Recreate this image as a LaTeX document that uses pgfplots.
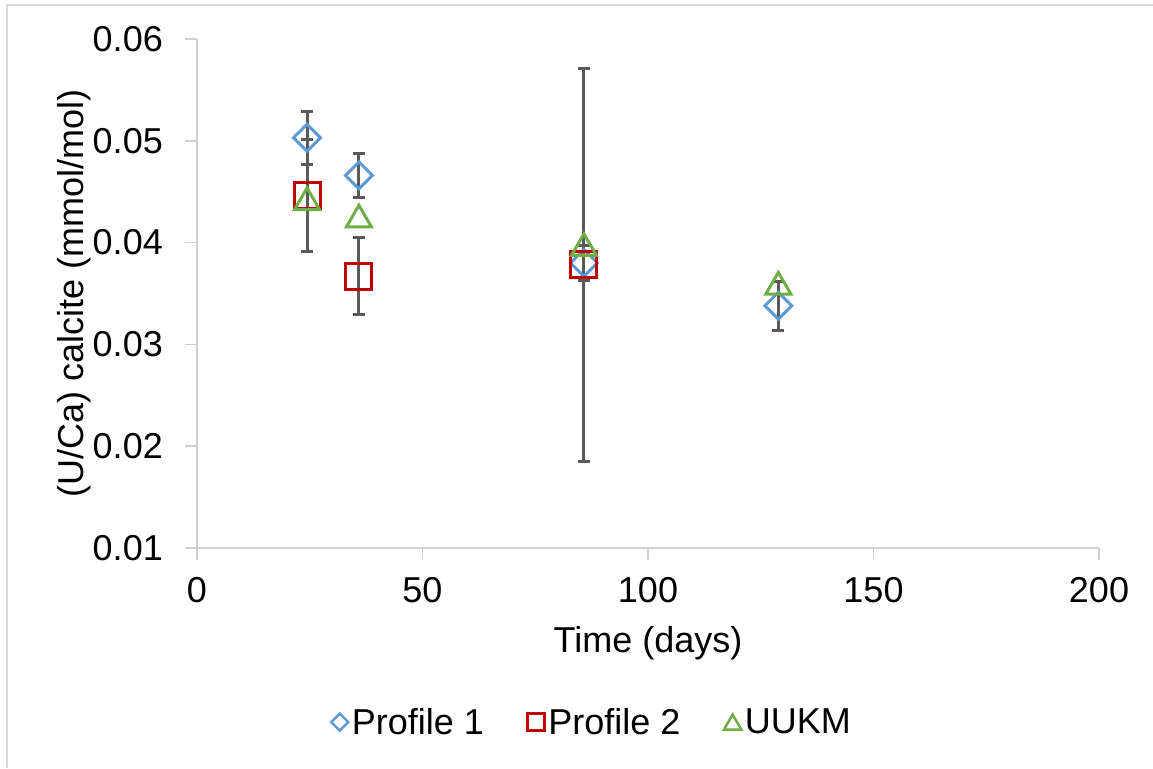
\documentclass[border=0pt]{standalone}
\usepackage{pgfplots}
\pgfplotsset{compat=1.18}
\usepackage{fontspec}
\setmainfont{Liberation Sans}
\definecolor{pone}{HTML}{5B9BD5}
\definecolor{ptwo}{HTML}{C00000}
\definecolor{pthree}{HTML}{70AD47}
\definecolor{ebar}{HTML}{595959}
\definecolor{axisgray}{HTML}{D0D0D0}
\definecolor{framegray}{HTML}{D9D9D9}
\newcommand{\bigfont}{\fontsize{36}{43}\selectfont}
\begin{document}
\begin{tikzpicture}[x=1pt,y=1pt]
\path[use as bounding box] (0,0) rectangle (1153,768);
\draw[framegray, line width=2pt] (7,0) -- (7,763) -- (1153,763);
\begin{axis}[
  at={(197pt,220pt)}, anchor=south west,
  scale only axis, width=902pt, height=509pt,
  xmin=0, xmax=200, ymin=0.01, ymax=0.06,
  xtick={0,50,100,150,200},
  ytick={0.01,0.02,0.03,0.04,0.05,0.06},
  scaled y ticks=false,
  axis lines=left, axis line style={-, axisgray, line width=1.5pt},
  tick align=outside, major tick length=12pt,
  tick style={axisgray, line width=1.5pt},
  /pgf/number format/assume math mode=true,
  yticklabel style={/pgf/number format/fixed, /pgf/number format/precision=2, /pgf/number format/fixed zerofill, anchor=east, inner sep=0pt, xshift=-22pt, font=\bigfont},
  xticklabel style={anchor=base, inner sep=0pt, yshift=-42pt, font=\bigfont},
  every axis x label/.style={at={(axis description cs:0.5,0)}, anchor=base, yshift=-104pt, font=\bigfont},
  every axis y label/.style={at={(axis description cs:0,0.5)}, xshift=-113pt, rotate=90, anchor=base, font=\bigfont},
  xlabel={Time (days)},
  ylabel={(U/Ca) calcite (mmol/mol)},
  clip=false,
  legend columns=3,
  legend style={at={(0.437,-0.342)}, anchor=center, draw=none, fill=none, font=\bigfont,
    /tikz/every even column/.append style={column sep=40pt}},
  legend cell align=left,
  legend image code/.code={\path (0pt,0pt) (20pt,0pt); \draw[#1] plot coordinates {(10pt,0pt)};},
]
% Profile 1
\addplot[forget plot, only marks, mark=square, mark size=9.5pt,
  mark options={rotate=45, draw=pone, fill=none, line width=3pt},
  error bars/.cd, y dir=both, y explicit, error mark=-,
  error bar style={ebar, line width=3pt},
  error mark options={rotate=90, ebar, line width=3pt, mark size=6pt}]
  table[x=x, y=y, y error=e] {
  x     y       e
  24.4  0.0503  0.0026
  35.9  0.0466  0.0022
  85.8  0.0380  0.0017
  128.9 0.0338  0.0024
};
% Profile 2
\addplot[forget plot, only marks, mark=square, mark size=13pt,
  mark options={draw=ptwo, fill=none, line width=3pt},
  error bars/.cd, y dir=both, y explicit, error mark=-,
  error bar style={ebar, line width=3pt},
  error mark options={rotate=90, ebar, line width=3pt, mark size=6pt}]
  table[x=x, y=y, y error=e] {
  x     y       e
  24.4  0.0446  0.0055
  35.9  0.0367  0.0038
  85.8  0.0378  0.0193
};
% UUKM
\addplot[forget plot, only marks, mark=triangle, mark size=14.5pt,
  mark options={draw=pthree, fill=none, line width=3pt, yshift=-3.6pt}]
  table[x=x, y=y] {
  x     y
  24.4  0.0443
  35.9  0.0426
  85.8  0.0398
  128.9 0.0360
};
\addlegendimage{only marks, mark=square, mark size=6pt, mark options={rotate=45, draw=pone, fill=none, line width=2.5pt}}
\addlegendentry{Profile 1}
\addlegendimage{only marks, mark=square, mark size=8.5pt, mark options={draw=ptwo, fill=none, line width=2.5pt}}
\addlegendentry{Profile 2}
\addlegendimage{only marks, mark=triangle, mark size=10pt, mark options={draw=pthree, fill=none, line width=2.5pt, yshift=-2.5pt}}
\addlegendentry{UUKM}
\end{axis}
\end{tikzpicture}
\end{document}
